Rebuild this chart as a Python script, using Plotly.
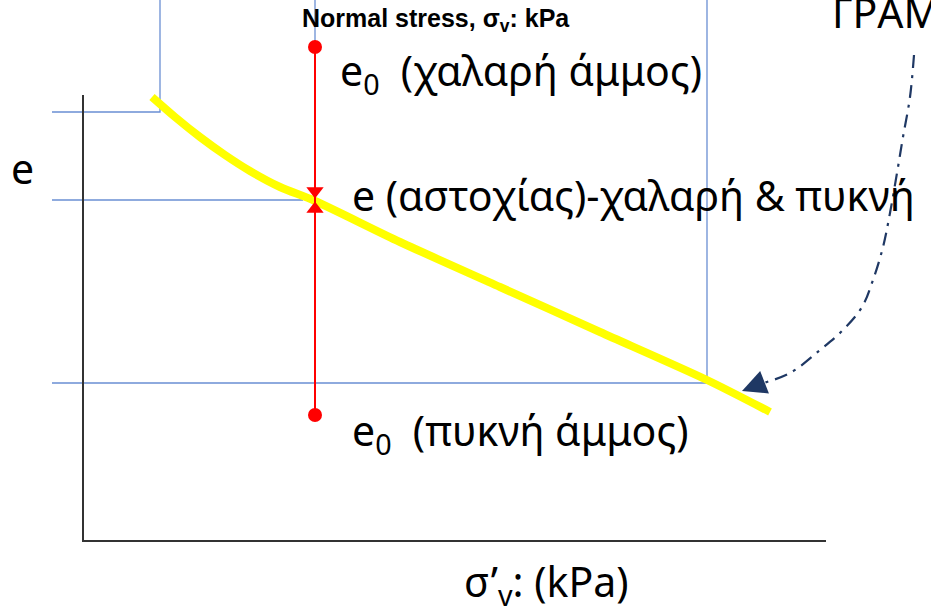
import plotly.graph_objects as go

# Diagram coordinates (x to the right, y downward, page units)
W, H = 931, 614

# e - sigma'v state line (yellow)
curve_x = [152, 175, 200, 225, 250, 280, 315, 400, 500, 600, 707, 770]
curve_y = [97, 117, 137, 155, 171, 187, 201, 242, 287, 332, 380, 412]

# axes of the sketch
axis_x = [83, 83, 826]
axis_y = [95, 541, 541]

# blue guide lines (x list, y list) per segment
guides = [
    ([52, 160, 160], [112, 112, 0]),
    ([52, 303], [200, 200]),
    ([52, 707, 707], [383, 383, 0]),
    ([315, 315], [0, 47]),
]

# red stress path: initial void ratios and failure void ratio
path_x = 315
e0_loose_y = 47
e0_dense_y = 415
e_fail_y = 200

# dash-dot pointer towards the state line
pointer_x = [914, 910, 903, 897, 890, 883, 873, 862, 843, 820, 790, 760]
pointer_y = [55, 97, 137, 173, 213, 247, 280, 307, 330, 350, 373, 384]
pointer_tip = (742, 391)

FONT = "Noto Sans"
BIG = 41

fig = go.Figure()

for gx, gy in guides:
    fig.add_trace(go.Scatter(x=gx, y=gy, mode="lines",
                             line=dict(color="#6A8FD3", width=1.3),
                             hoverinfo="skip"))

fig.add_trace(go.Scatter(x=axis_x, y=axis_y, mode="lines",
                         line=dict(color="#333333", width=2),
                         hoverinfo="skip"))

fig.add_trace(go.Scatter(x=curve_x, y=curve_y, mode="lines",
                         line=dict(color="#FFFF00", width=8, shape="spline", smoothing=0.8),
                         hoverinfo="skip"))

# red vertical path
fig.add_trace(go.Scatter(x=[path_x, path_x], y=[e0_loose_y, e0_dense_y], mode="lines",
                         line=dict(color="#FF0000", width=2), hoverinfo="skip"))
fig.add_trace(go.Scatter(x=[path_x, path_x], y=[e0_loose_y, e0_dense_y], mode="markers",
                         marker=dict(color="#FF0000", size=14), hoverinfo="skip"))
fig.add_trace(go.Scatter(x=[path_x], y=[e_fail_y - 9], mode="markers",
                         marker=dict(symbol="triangle-down", color="#FF0000", size=15),
                         hoverinfo="skip"))
fig.add_trace(go.Scatter(x=[path_x], y=[e_fail_y + 9], mode="markers",
                         marker=dict(symbol="triangle-up", color="#FF0000", size=15),
                         hoverinfo="skip"))

# dash-dot pointer
fig.add_trace(go.Scatter(x=pointer_x, y=pointer_y, mode="lines",
                         line=dict(color="#1F3864", width=2.2, dash="13px,7px,3px,7px",
                                   shape="spline"),
                         hoverinfo="skip"))
fig.add_annotation(x=pointer_tip[0], y=pointer_tip[1], ax=pointer_x[-1], ay=pointer_y[-1],
                   xref="x", yref="y", axref="x", ayref="y", text="",
                   showarrow=True, arrowhead=2, arrowsize=2.2, arrowwidth=2.2,
                   arrowcolor="#1F3864", standoff=0)

def label(x, y, text, size=BIG, anchor="left", family=FONT, color="#000000"):
    fig.add_annotation(x=x, y=y, xref="x", yref="y", text=text, showarrow=False,
                       xanchor=anchor, yanchor="middle",
                       font=dict(family=family, size=size, color=color))

label(436, 20, "<b>Normal stress, σ<sub>v</sub>: kPa</b>", size=25,
      anchor="center", family="Liberation Sans, Arial")
label(338, 72, "e<sub>0</sub>  (χαλαρή άμμος)")
label(350, 195, "e (αστοχίας)-χαλαρή & πυκνή")
label(350, 432, "e<sub>0</sub>  (πυκνή άμμος)")
label(9, 168, "e")
label(546, 583, "σ’<sub>v</sub>: (kPa)", anchor="center")
label(830, 12, "ΓΡΑΜΜΗ")

fig.update_layout(
    width=W, height=H,
    margin=dict(l=0, r=0, t=0, b=0),
    paper_bgcolor="white", plot_bgcolor="white",
    showlegend=False,
    xaxis=dict(range=[0, W], visible=False, fixedrange=True),
    yaxis=dict(range=[H, 0], visible=False, fixedrange=True),
)

fig.write_html("out.html")
